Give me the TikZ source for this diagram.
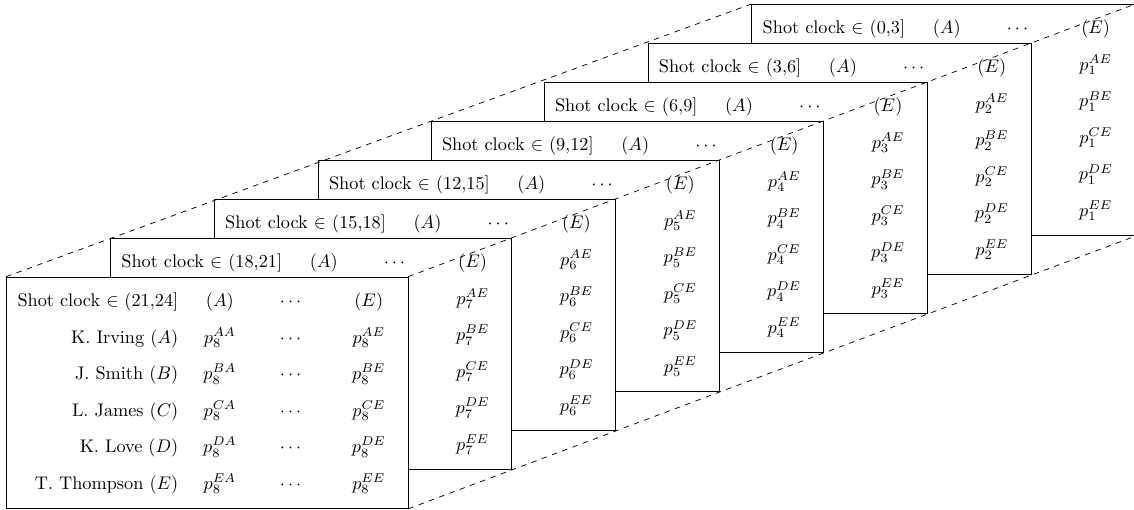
\documentclass[tikz,border=0pt]{standalone}
\usepackage{amsmath}
\usepackage{array}
\usetikzlibrary{positioning}

\newcolumntype{C}[1]{>{\centering\arraybackslash}p{#1}}
\newcommand{\frontno}{8}
\newcommand{\showcell}[1]{\ifnum\panelno=\frontno\relax #1\fi}
\newcommand{\clocktable}[3]{%
  \def\panelno{#1}%
  \begin{tabular}{@{\hspace{6pt}}>{\rule[-7.2pt]{0pt}{20pt}}r@{}C{45.6pt}@{}C{33.6pt}@{\hspace{3.7pt}}C{43pt}@{}}
    Shot clock $\in$ (#2,#3] & $(A)$ & $\cdots$ & $(E)$ \\
    \showcell{K. Irving $(A)$} & \showcell{$p^{AA}_{#1}$} & \showcell{$\cdots$} & $p^{AE}_{#1}$ \\
    \showcell{J. Smith $(B)$} & \showcell{$p^{BA}_{#1}$} & \showcell{$\cdots$} & $p^{BE}_{#1}$ \\
    \showcell{L. James $(C)$} & \showcell{$p^{CA}_{#1}$} & \showcell{$\cdots$} & $p^{CE}_{#1}$ \\
    \showcell{K. Love $(D)$} & \showcell{$p^{DA}_{#1}$} & \showcell{$\cdots$} & $p^{DE}_{#1}$ \\
    \showcell{T. Thompson $(E)$} & \showcell{$p^{EA}_{#1}$} & \showcell{$\cdots$} & $p^{EE}_{#1}$ \\
  \end{tabular}}

\tikzset{panel/.style={draw, fill=white, inner xsep=0pt, inner ysep=3.4pt}}

\begin{document}
\begin{tikzpicture}[node distance=0.75cm and 2cm]
	\useasboundingbox (-21.865,-9.745) rectangle (-0.025,0.077);
	\node[panel, anchor=north east] (clock1) at (0,0) {\clocktable{1}{0}{3}};
	\node[panel, below left=of clock1.north east] (clock2) {\clocktable{2}{3}{6}};
	\node[panel, below left=of clock2.north east] (clock3) {\clocktable{3}{6}{9}};
	\node[panel, below left=of clock3.north east] (clock4) {\clocktable{4}{9}{12}};
	\node[panel, below left=of clock4.north east] (clock5) {\clocktable{5}{12}{15}};
	\node[panel, below left=of clock5.north east] (clock6) {\clocktable{6}{15}{18}};
	\node[panel, below left=of clock6.north east] (clock7) {\clocktable{7}{18}{21}};
	\node[panel, below left=of clock7.north east] (clock8) {\clocktable{8}{21}{24}};
	\draw[dashed] (clock8.north west) -- (clock1.north west);
	\draw[dashed] (clock8.north east) -- (clock1.north east);
	\draw[dashed] (clock8.south east) -- (clock1.south east);
\end{tikzpicture}
\end{document}
